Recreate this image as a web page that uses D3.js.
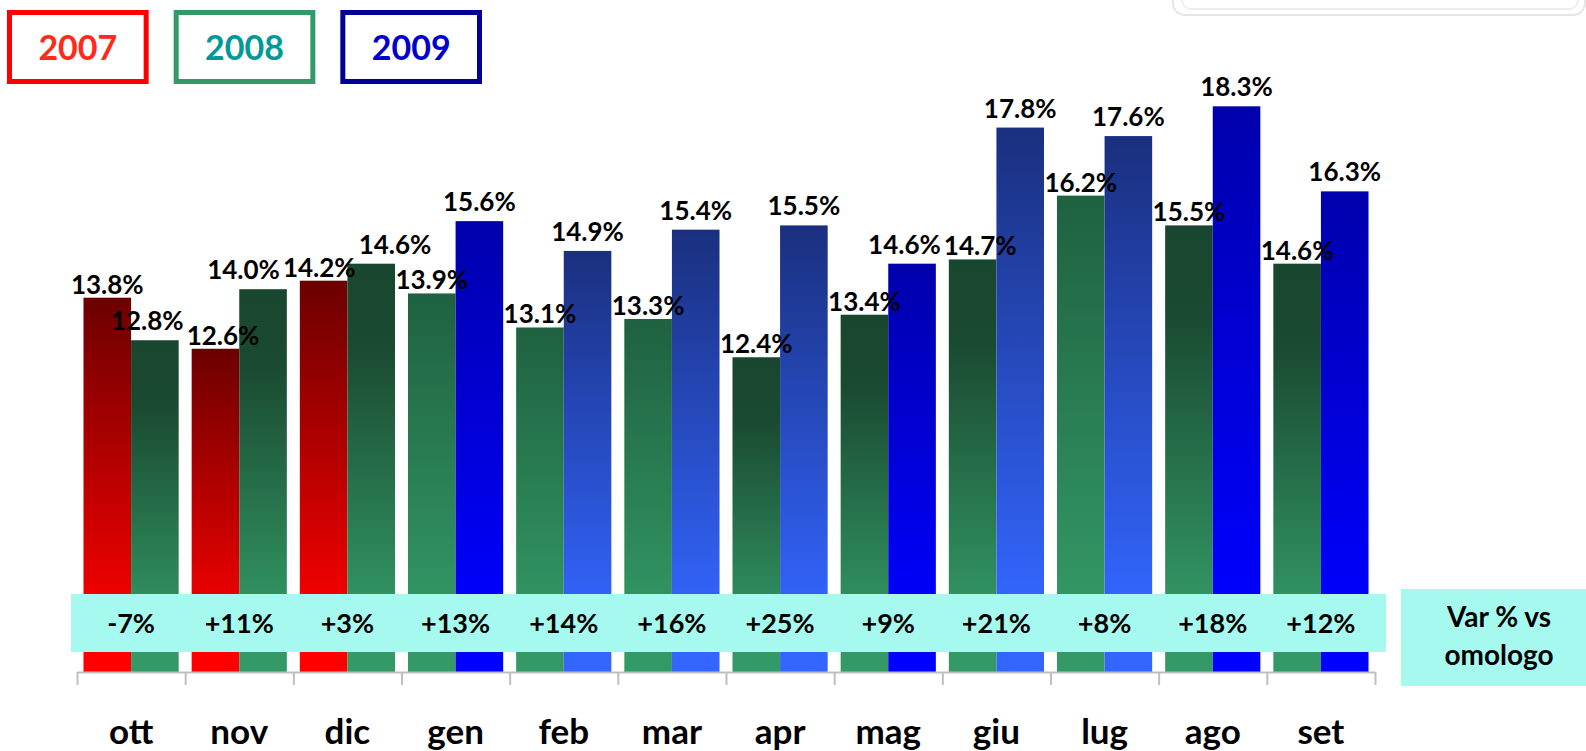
<!DOCTYPE html>
<html>
<head>
<meta charset="utf-8">
<title>Var % vs omologo</title>
<style>
  body { margin: 0; background: #fff; }
  svg { display: block; font-family: Lato, "Open Sans", sans-serif; font-weight: bold; }
</style>
</head>
<body>
<svg width="1586" height="751"></svg>
<script src="https://d3js.org/d3.v7.min.js"></script>
<script>

// data
var months = ["ott", "nov", "dic", "gen", "feb", "mar", "apr", "mag", "giu", "lug", "ago", "set"];
var baseYear = [2007, 2007, 2007, 2008, 2008, 2008, 2008, 2008, 2008, 2008, 2008, 2008];
var prevValues = [13.8, 12.6, 14.2, 13.9, 13.1, 13.3, 12.4, 13.4, 14.7, 16.2, 15.5, 14.6];
var currValues = [12.8, 14.0, 14.6, 15.6, 14.9, 15.4, 15.5, 14.6, 17.8, 17.6, 18.3, 16.3];
var variation = [-7, 11, 3, 13, 14, 16, 25, 9, 21, 8, 18, 12];
var years = ["2007", "2008", "2009"];
var varTitle = ["Var % vs", "omologo"];

// styling
var legendStroke = {"2007": "#ff0000", "2008": "#339966", "2009": "#000099"};
var legendText = {"2007": "#ff2a1a", "2008": "#009999", "2009": "#0000cc"};
var midGreenMonths = ["gen", "feb", "mar", "lug"];
var navyMonths = ["feb", "mar", "apr", "giu", "lug"];
var teal = "#a6f9ef";

var svg = d3.select("svg"),
    width = +svg.attr("width"),
    height = +svg.attr("height");

var x = d3.scaleBand()
    .domain(months)
    .range([77, 1375])
    .paddingInner(0.12)
    .paddingOuter(0.06);

var sub = d3.scaleBand()
    .domain(["prev", "curr"])
    .range([0, x.bandwidth()]);

var xt = d3.scaleLinear()
    .domain([0, months.length])
    .range([77, 1375]);

var y = d3.scaleLinear()
    .domain([5, 20])
    .range([672, 34]);

// gradients, dark at the top of each bar
var defs = svg.append("defs");
var grads = [
  {id: "red", stops: [[0, "#6c0000"], [0.9, "#ff0000"], [1, "#ff0000"]]},
  {id: "darkGreen", stops: [[0, "#19462e"], [0.2, "#1a4a31"], [0.88, "#339966"], [1, "#339966"]]},
  {id: "midGreen", stops: [[0, "#1f6140"], [0.88, "#339966"], [1, "#339966"]]},
  {id: "navy", stops: [[0, "#1a2f7e"], [0.88, "#3366ff"], [1, "#3366ff"]]},
  {id: "blue", stops: [[0, "#0000ac"], [0.88, "#0000ff"], [1, "#0000ff"]]}
];
grads.forEach(function(g) {
  var lg = defs.append("linearGradient")
      .attr("id", g.id)
      .attr("x1", 0).attr("y1", 0)
      .attr("x2", 0).attr("y2", 1);
  g.stops.forEach(function(s) {
    lg.append("stop").attr("offset", s[0]).attr("stop-color", s[1]);
  });
});

function fillFor(d) {
  if (d.year == 2007) return "url(#red)";
  if (d.year == 2008) return midGreenMonths.indexOf(d.month) >= 0 && d.slot == "prev" ? "url(#midGreen)" : "url(#darkGreen)";
  return navyMonths.indexOf(d.month) >= 0 ? "url(#navy)" : "url(#blue)";
}

var bars = [];
months.forEach(function(m, i) {
  bars.push({month: m, slot: "prev", year: baseYear[i], value: prevValues[i]});
  bars.push({month: m, slot: "curr", year: baseYear[i] + 1, value: currValues[i]});
});

// faint frame top right
svg.append("rect")
    .attr("x", 1173).attr("y", -30)
    .attr("width", 412).attr("height", 45)
    .attr("rx", 12)
    .attr("fill", "none")
    .attr("stroke", "#e6e6e6")
    .attr("stroke-width", 2);
svg.append("rect")
    .attr("x", 1182).attr("y", -30)
    .attr("width", 396).attr("height", 39)
    .attr("rx", 9)
    .attr("fill", "none")
    .attr("stroke", "#eeeeee")
    .attr("stroke-width", 2);

// bars
svg.append("g")
  .selectAll("rect")
  .data(bars)
  .enter().append("rect")
    .attr("x", function(d) { return x(d.month) + sub(d.slot); })
    .attr("y", function(d) { return y(d.value); })
    .attr("width", sub.bandwidth())
    .attr("height", function(d) { return y.range()[0] - y(d.value); })
    .attr("fill", fillFor);

// variation band
svg.append("rect")
    .attr("x", 71).attr("y", 594)
    .attr("width", 1315).attr("height", 58)
    .attr("fill", teal);

svg.append("g")
  .selectAll("text")
  .data(variation)
  .enter().append("text")
    .attr("x", function(d, i) { return x(months[i]) + x.bandwidth() / 2; })
    .attr("y", 633)
    .attr("text-anchor", "middle")
    .attr("font-size", 27)
    .attr("fill", "#000")
    .text(function(d) { return (d > 0 ? "+" : "") + d + "%"; });

// var % title box
svg.append("rect")
    .attr("x", 1401).attr("y", 589)
    .attr("width", 200).attr("height", 97)
    .attr("fill", teal);

svg.append("g")
  .selectAll("text")
  .data(varTitle)
  .enter().append("text")
    .attr("x", 1499)
    .attr("y", function(d, i) { return 627 + i * 38; })
    .attr("text-anchor", "middle")
    .attr("font-size", 28)
    .attr("fill", "#000")
    .text(function(d) { return d; });

// value labels, then push apart the ones that collide
bars.forEach(function(d) {
  d.lx = x(d.month) + sub(d.slot) + sub.bandwidth() / 2;
  d.ly = y(d.value) - (d.slot == "prev" ? 4 : 10);
});

var labels = svg.append("g")
  .selectAll("text")
  .data(bars)
  .enter().append("text")
    .attr("x", function(d) { return d.lx; })
    .attr("y", function(d) { return d.ly; })
    .attr("text-anchor", "middle")
    .attr("font-size", 26)
    .attr("fill", "#000")
    .text(function(d) { return d3.format(".1f")(d.value) + "%"; })
    .each(function(d) { d.w = this.getComputedTextLength(); });

for (var k = 0; k < 8; k++) {
  for (var i = 0; i < bars.length - 1; i++) {
    var a = bars[i], b = bars[i + 1];
    if (Math.abs(a.ly - b.ly) > 30) continue;
    var ov = (a.lx + a.w / 2) - (b.lx - b.w / 2) + 3;
    if (ov > 0) { a.lx -= ov / 2; b.lx += ov / 2; }
  }
}
labels.attr("x", function(d) { return d.lx; });

// axis with ticks between months
var axisG = svg.append("g")
    .attr("transform", "translate(0," + y.range()[0] + ")")
    .call(d3.axisBottom(xt)
      .tickValues(d3.range(months.length + 1))
      .tickSize(13)
      .tickSizeOuter(0)
      .tickFormat(""));
axisG.selectAll("path, line")
    .attr("stroke", "#bfbfbf")
    .attr("stroke-width", 2);

var monthAxis = svg.append("g")
    .attr("transform", "translate(0," + y.range()[0] + ")")
    .call(d3.axisBottom(x).tickSize(0));
monthAxis.select(".domain").remove();
monthAxis.selectAll("text")
    .attr("y", 72)
    .attr("dy", null)
    .attr("font-size", 35)
    .attr("font-family", "Lato, 'Open Sans', sans-serif")
    .attr("font-weight", "bold")
    .attr("fill", "#000");

// legend
var lx = d3.scaleBand()
    .domain(years)
    .range([7, 482])
    .paddingInner(0.15);

var legend = svg.append("g")
  .selectAll("g")
  .data(years)
  .enter().append("g");

legend.append("rect")
    .attr("x", function(d) { return lx(d) + 2.5; })
    .attr("y", 12.5)
    .attr("width", lx.bandwidth() - 5)
    .attr("height", 69)
    .attr("fill", "#fff")
    .attr("stroke", function(d) { return legendStroke[d]; })
    .attr("stroke-width", 5);

legend.append("text")
    .attr("x", function(d) { return lx(d) + lx.bandwidth() / 2; })
    .attr("y", 60)
    .attr("text-anchor", "middle")
    .attr("font-size", 34)
    .attr("fill", function(d) { return legendText[d]; })
    .text(function(d) { return d; });

</script>
</body>
</html>
